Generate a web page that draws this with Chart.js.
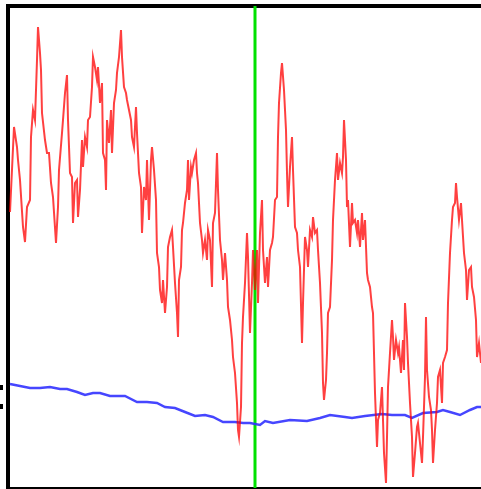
<!DOCTYPE html>
<html>
<head>
<meta charset="utf-8">
<script src="https://cdn.jsdelivr.net/npm/chart.js@4"></script>
<style>
  html, body { margin: 0; padding: 0; background: #fff; }
  canvas { display: block; }
</style>
</head>
<body>
<canvas id="grafico" width="481" height="489"></canvas>
<script>
// serie roja (ruidosa): paso y nivel
const redSteps = [2, 6, 9, 10, 12, 15, 17, 19, 22, 23, 25, 27, 29, 30, 32, 33, 34, 37, 39, 41, 43, 45, 48, 50, 51, 54, 55, 57, 59, 60, 62, 64, 65, 67, 69, 70, 72, 74, 75, 77, 79, 80, 82, 84, 85, 87, 89, 90, 92, 94, 95, 97, 98, 99, 101, 103, 104, 106, 108, 109, 111, 113, 114, 116, 118, 119, 121, 123, 124, 126, 128, 129, 131, 133, 134, 136, 138, 139, 141, 143, 144, 146, 148, 149, 151, 152, 154, 155, 157, 159, 160, 162, 164, 165, 167, 169, 170, 171, 173, 174, 175, 177, 179, 180, 181, 183, 184, 186, 188, 189, 190, 192, 194, 195, 197, 199, 200, 202, 204, 205, 207, 209, 210, 212, 214, 215, 217, 219, 220, 222, 224, 225, 227, 229, 230, 231, 233, 234, 235, 237, 239, 240, 242, 244, 245, 247, 249, 250, 252, 254, 255, 257, 259, 260, 262, 264, 265, 267, 269, 270, 271, 273, 274, 276, 278, 279, 280, 282, 284, 285, 287, 289, 290, 292, 294, 295, 297, 299, 300, 302, 304, 305, 307, 309, 310, 312, 314, 315, 316, 318, 319, 320, 322, 324, 325, 327, 329, 330, 332, 334, 335, 336, 337, 338, 339, 340, 342, 344, 345, 347, 349, 350, 352, 354, 355, 357, 359, 360, 362, 364, 365, 366, 367, 369, 370, 372, 374, 375, 376, 378, 379, 380, 382, 384, 385, 386, 388, 390, 391, 393, 395, 396, 397, 399, 400, 402, 404, 405, 407, 409, 410, 412, 414, 415, 417, 418, 419, 421, 423, 424, 425, 427, 429, 430, 432, 434, 435, 437, 439, 440, 442, 444, 445, 447, 448, 449, 451, 453, 454, 456, 458, 459, 461, 463, 464, 466, 468, 469, 471, 473];
const redLevels = [275, 360, 340, 327, 307, 260, 245, 280, 287, 350, 377, 367, 427, 460, 434, 417, 374, 347, 334, 334, 304, 290, 244, 280, 317, 354, 367, 394, 412, 367, 314, 310, 264, 304, 307, 270, 297, 347, 320, 350, 340, 367, 370, 400, 430, 420, 407, 420, 384, 404, 334, 327, 297, 367, 344, 377, 334, 384, 397, 414, 430, 457, 430, 400, 394, 387, 377, 367, 350, 340, 380, 354, 314, 300, 254, 300, 287, 327, 267, 327, 340, 317, 287, 234, 220, 197, 184, 207, 174, 200, 240, 250, 257, 240, 204, 174, 150, 207, 220, 257, 264, 284, 297, 327, 287, 320, 314, 327, 334, 314, 304, 264, 247, 234, 247, 227, 257, 247, 200, 264, 274, 334, 297, 247, 227, 207, 234, 207, 180, 167, 147, 130, 114, 84, 57, 50, 80, 144, 170, 204, 254, 230, 154, 204, 237, 197, 237, 184, 254, 287, 237, 204, 230, 200, 237, 244, 250, 287, 290, 350, 384, 414, 424, 397, 357, 314, 280, 320, 350, 317, 260, 254, 237, 220, 144, 184, 250, 237, 220, 257, 250, 270, 254, 257, 237, 204, 154, 104, 87, 107, 134, 174, 180, 227, 267, 307, 334, 307, 324, 314, 330, 367, 347, 327, 280, 287, 240, 284, 264, 267, 254, 267, 240, 274, 247, 267, 214, 207, 200, 180, 174, 134, 94, 40, 67, 74, 100, 67, 34, 4, 50, 100, 134, 167, 150, 127, 147, 134, 140, 114, 147, 117, 184, 150, 124, 84, 50, 10, 34, 60, 64, 44, 24, 50, 110, 170, 117, 90, 77, 57, 24, 57, 84, 110, 117, 84, 124, 130, 137, 184, 234, 267, 280, 284, 304, 290, 267, 284, 267, 234, 217, 187, 217, 220, 200, 190, 167, 130, 144, 124];

// serie azul (suavizada)
const blueSteps = [2, 12, 22, 32, 42, 52, 59, 69, 77, 85, 92, 102, 117, 129, 139, 149, 157, 167, 177, 187, 197, 205, 215, 227, 235, 242, 252, 257, 265, 282, 299, 312, 322, 337, 344, 357, 374, 384, 397, 404, 415, 429, 435, 442, 452, 462, 469, 473];
const blueLevels = [103, 101, 99, 99, 100, 98, 98, 95, 92, 94, 94, 91, 91, 85, 85, 84, 80, 79, 75, 71, 72, 70, 65, 65, 64, 64, 62, 66, 64, 67, 66, 69, 72, 70, 69, 71, 73, 72, 72, 69, 74, 75, 77, 75, 72, 77, 80, 80];

// marca vertical y ticks del eje
const markerStep = 247;
const yTicks = [80, 100];
const yMin = -1;
const yMax = 481;

function armarPuntos(xs, ys) {
  return xs.map((x, i) => ({ x: x, y: ys[i] }));
}

const ctx = document.getElementById("grafico").getContext("2d");
const grafico = new Chart(ctx, {
  type: "line",
  data: {
    datasets: [
      {
        data: armarPuntos(redSteps, redLevels),
        borderColor: "rgba(255, 0, 0, 0.75)",
        borderWidth: 2,
        pointRadius: 0,
        tension: 0,
      },
      {
        data: armarPuntos(blueSteps, blueLevels),
        borderColor: "rgba(50, 50, 255, 0.9)",
        borderWidth: 2.5,
        pointRadius: 0,
        tension: 0,
      },
      {
        data: [
          { x: markerStep, y: yMin },
          { x: markerStep, y: yMax },
        ],
        borderColor: "rgb(0, 225, 0)",
        borderWidth: 3,
        pointRadius: 0,
      },
    ],
  },
  options: {
    responsive: false,
    animation: false,
    layout: {
      padding: { top: 6, left: 0, right: 0, bottom: 1 },
    },
    scales: {
      x: {
        type: "linear",
        position: "bottom",
        min: 0,
        max: 473,
        grid: { display: false, drawTicks: false },
        ticks: { display: false },
        border: { display: true, color: "#000", width: 2 },
      },
      x2: {
        type: "linear",
        position: "top",
        min: 0,
        max: 473,
        grid: { display: false, drawTicks: false },
        ticks: { display: false },
        border: { display: true, color: "#000", width: 4 },
      },
      y: {
        position: "left",
        min: yMin,
        max: yMax,
        afterBuildTicks: (scale) => {
          scale.ticks = yTicks.map((v) => ({ value: v }));
        },
        grid: {
          drawOnChartArea: false,
          drawTicks: true,
          tickLength: 8,
          tickWidth: 5,
          tickColor: "#000",
          tickBorderDash: [3, 20],
        },
        ticks: { display: false },
        border: { display: true, color: "#000", width: 4 },
      },
    },
    plugins: {
      legend: { display: false },
      tooltip: { enabled: false },
    },
  },
});
</script>
</body>
</html>
